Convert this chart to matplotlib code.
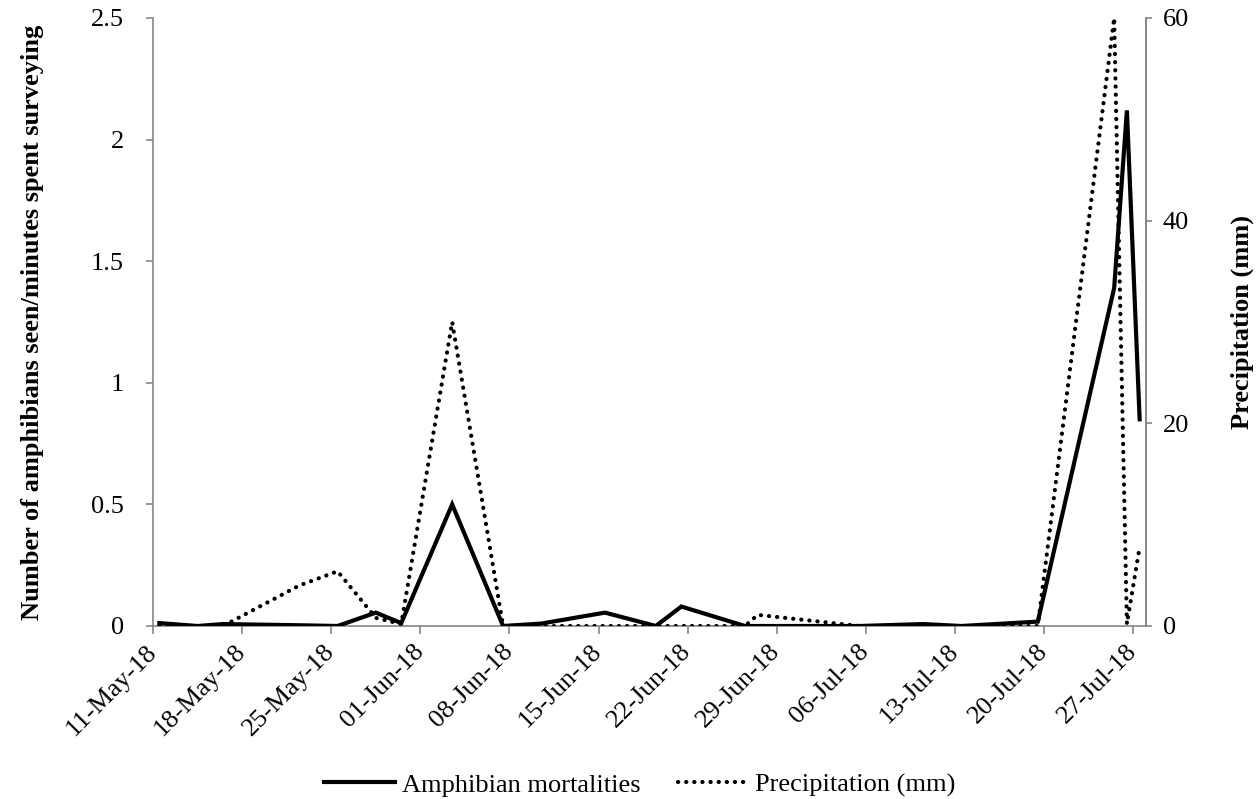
import numpy as np
import pandas as pd
import matplotlib
matplotlib.use('Agg')
import matplotlib.pyplot as plt

plt.rcParams['font.family'] = ['Liberation Serif', 'DejaVu Serif']

# sample dates and values
dates = ['2018-05-11', '2018-05-14', '2018-05-16', '2018-05-22', '2018-05-25',
         '2018-05-28', '2018-05-30', '2018-06-03', '2018-06-07', '2018-06-10',
         '2018-06-15', '2018-06-19', '2018-06-21', '2018-06-26', '2018-06-27',
         '2018-07-05', '2018-07-10', '2018-07-13', '2018-07-19', '2018-07-25',
         '2018-07-26', '2018-07-27']
mortalities = [0.012, 0.0, 0.008, 0.003, 0.0,
               0.055, 0.012, 0.5, 0.0, 0.01,
               0.055, 0.0, 0.08, 0.0, 0.0,
               0.0, 0.008, 0.0, 0.018, 1.39,
               2.12, 0.85]
precip_mm = [0.0, 0.0, 0.0, 4.0, 5.4,
             0.8, 0.2, 30.0, 0.0, 0.0,
             0.0, 0.0, 0.0, 0.0, 1.1,
             0.0, 0.0, 0.0, 0.0, 60.0,
             0.2, 7.8]

left_ticks = [0, 0.5, 1, 1.5, 2, 2.5]
left_tick_labels = ['0', '0.5', '1', '1.5', '2', '2.5']
right_ticks = [0, 20, 40, 60]

x = pd.to_datetime(dates)
half_day = pd.Timedelta(hours=12)
tick_dates = pd.date_range('2018-05-11', '2018-07-27', freq='7D')

AXIS_COLOR = '#868686'
FS = 19

fig = plt.figure(figsize=(12.6, 7.99), dpi=100)
ax = fig.add_axes([153 / 1260, 1 - 626 / 799, (1146 - 153) / 1260, (626 - 18) / 799])
ax2 = ax.twinx()

l1, = ax.plot(x, mortalities, color='black', linewidth=3.0,
              solid_joinstyle='miter', label='Amphibian mortalities', zorder=3)
l2, = ax2.plot(x, precip_mm, color='black', linewidth=3.0,
               linestyle=(0, (0.05, 1.9)), dash_capstyle='round',
               label='Precipitation (mm)', zorder=2)

ax.set_xlim(x[0] - half_day, pd.Timestamp('2018-07-27') + half_day)
ax.set_ylim(0, 2.5)
ax2.set_ylim(0, 60)

ax.set_yticks(left_ticks)
ax.set_yticklabels(left_tick_labels)
ax2.set_yticks(right_ticks)

ax.set_xticks(tick_dates - half_day)
ax.set_xticklabels([d.strftime('%d-%b-%y') for d in tick_dates],
                   rotation=45, ha='right', va='center', rotation_mode='anchor')

for a in (ax, ax2):
    a.spines['top'].set_visible(False)
    for side in ('left', 'right', 'bottom'):
        a.spines[side].set_color(AXIS_COLOR)
        a.spines[side].set_linewidth(1.2)
ax2.spines['left'].set_visible(False)
ax2.spines['bottom'].set_visible(False)

ax.tick_params(axis='x', direction='out', length=6, width=1.2, color=AXIS_COLOR,
               labelsize=FS, pad=10)
ax.tick_params(axis='y', direction='out', length=5, width=1.2, color=AXIS_COLOR,
               labelsize=FS, pad=16)
ax2.tick_params(axis='y', direction='out', length=4, width=1.2, color=AXIS_COLOR,
                labelsize=FS, pad=8)

ax.set_ylabel('Number of amphibians seen/minutes spent surveying',
              fontsize=FS, fontweight='bold', labelpad=34)
ax2.set_ylabel('Precipitation (mm)', fontsize=FS, fontweight='bold', labelpad=30)

fig.legend(handles=[l1, l2], loc='center', bbox_to_anchor=(640 / 1260, 1 - 785 / 799),
           ncol=2, frameon=False, fontsize=FS, handlelength=2.7,
           handletextpad=0.25, columnspacing=1.4)

fig.savefig('out.png', dpi=100)
